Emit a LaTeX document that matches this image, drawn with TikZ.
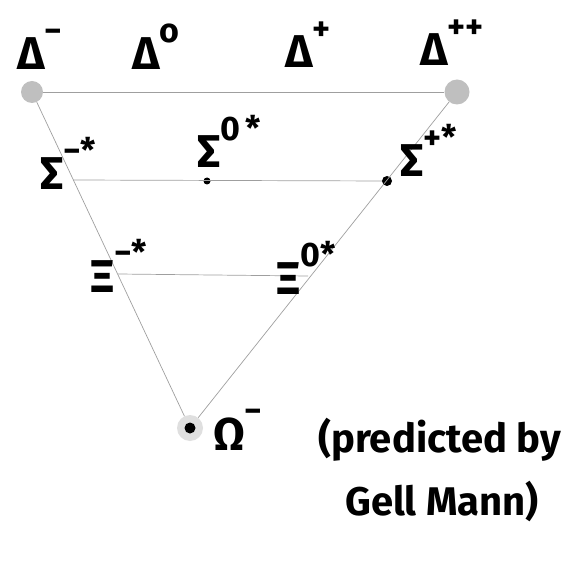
\documentclass[tikz,border=0pt]{standalone}
\usepackage{fontspec}
\setmainfont{Fira Sans}
\usetikzlibrary{positioning}

\newcommand\hi[1]{\raisebox{0.6em}{\fontsize{34}{34}\selectfont #1}}

\begin{document}
\begin{tikzpicture}[
  x=1pt,y=-1pt,
  blob/.style={circle,fill=gray!50,minimum size=22pt,inner sep=0pt},
  halo/.style={circle,fill=gray!25,minimum size=26pt,inner sep=0pt},
  pt/.style={circle,fill=black,minimum size=8pt,inner sep=0pt},
  edge/.style={gray!75,line width=0.7pt},
  lab/.style={font=\fontsize{46}{50}\selectfont\bfseries,inner sep=0pt,anchor=base west},
  note/.style={lab,font=\fontsize{40}{44}\selectfont\bfseries}
]
  \useasboundingbox (0,0) rectangle (564,561);
  % corner states
  \node[blob] (Dm) at (32,92) {};
  \node[blob,minimum size=25pt] (Dpp) at (457,92) {};
  \node[halo] (Om) at (190,428) {};
  \node[pt,minimum size=11pt] at (Om) {};
  \node[pt,minimum size=7pt] (Sz) at (207,181) {};
  \node[pt,minimum size=10pt] (Sp) at (387,181) {};
  \coordinate (Sm) at (73,180);
  \coordinate (Xm) at (118,274);
  \coordinate (Xz) at (308,276);
  % lines
  \draw[edge] (Dm) -- (Dpp);
  \draw[edge] (Dm) -- (Om);
  \draw[edge] (Dpp) -- (Om);
  \draw[edge] (Sm) -- (Sp);
  \draw[edge] (Xm) -- (Xz);
  % labels
  \node[lab] (lDm) at (17,70) {Δ\hi{−}};
  \node[lab] (lDz) at (132,70) {Δ\hi{o}};
  \node[lab] (lDp) at (285,68) {Δ\hi{+}};
  \node[lab] (lDpp) at (420,66) {Δ\hi{++}};
  \node[lab] (lSm) at (40,190) {Σ\hi{−*}};
  \node[lab] (lSz) at (197,168) {Σ\hi{0\,*}};
  \node[lab] (lSp) at (400,177) {Σ\hi{+*}};
  \node[lab] (lXm) at (90,292) {Ξ\hi{−*}};
  \node[lab] (lXz) at (276,294) {Ξ\hi{0*}};
  \node[lab] (lOm) at (213,450) {Ω\hi{−}};
  \node[note] (note1) at (318,452) {(predicted by};
  \node[note] (note2) at (345,515) {Gell Mann)};
\end{tikzpicture}
\end{document}
